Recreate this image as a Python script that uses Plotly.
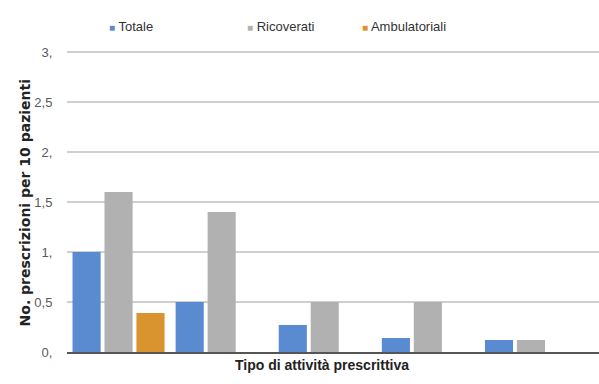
import plotly.graph_objects as go

# Prescriptions per 10 patients, by prescribing-activity type (5 groups)
groups = [0, 1, 2, 3, 4]
totale = [1.0, 0.5, 0.27, 0.14, 0.12]
ricoverati = [1.6, 1.4, 0.5, 0.5, 0.12]
ambulatoriali = [0.39, 0, 0, 0, 0]

series_names = ["Totale", "Ricoverati", "Ambulatoriali"]
series_colors = ["#5a8ad0", "#b1b1b1", "#d9942f"]

tick_vals = [0, 0.5, 1, 1.5, 2, 2.5, 3]
tick_text = ["0,", "0,5", "1,", "1,5", "2,", "2,5", "3,"]

FONT = "Liberation Sans Narrow, Liberation Sans, Arial, sans-serif"
GRID = "#cfcfcf"

fig = go.Figure()
for name, vals, col in zip(series_names, [totale, ricoverati, ambulatoriali], series_colors):
    fig.add_trace(go.Bar(x=groups, y=vals, name=name, marker_color=col,
                         marker_line_width=0, showlegend=False))

# Legend row drawn as coloured markers + labels along the top
legend_x = [0.075, 0.335, 0.551]
for name, col, lx in zip(series_names, series_colors, legend_x):
    fig.add_annotation(
        x=lx, y=1.064, xref="paper", yref="paper", xanchor="left", yanchor="middle",
        text=f"<span style='color:{col};font-size:10px'>■</span> {name}",
        showarrow=False, font=dict(family=FONT, size=13, color="#333333"))

# Axis titles
fig.add_annotation(
    x=-0.097, y=0.49, xref="paper", yref="paper", textangle=-90,
    text="<b>No. prescrizioni per 10 pazienti</b>", showarrow=False,
    font=dict(family="DejaVu Sans, sans-serif", size=14, color="#222222"))
fig.add_annotation(
    x=0.479, y=-0.075, xref="paper", yref="paper",
    text="<b>Tipo di attività prescrittiva</b>", showarrow=False,
    font=dict(family=FONT, size=14, color="#222222"))

fig.update_layout(
    width=599, height=384,
    margin=dict(l=67, r=0, t=46, b=32),
    paper_bgcolor="white", plot_bgcolor="white",
    barmode="group", bargap=0.07, bargroupgap=0.12,
    xaxis=dict(range=[-0.5, 4.66], showticklabels=False, showgrid=False,
               zeroline=False, showline=True, linecolor="#555555", linewidth=2,
               ticks=""),
    yaxis=dict(range=[0, 3.06], tickvals=tick_vals, ticktext=tick_text,
               showgrid=True, gridcolor=GRID, gridwidth=2,
               zeroline=False, showline=False,
               ticks="outside", ticklen=11, tickcolor="white",
               tickfont=dict(family=FONT, size=13, color="#595959")),
)

# Top grid line at the highest tick, drawn explicitly
fig.add_shape(type="line", xref="paper", x0=0, x1=1, yref="y",
              y0=tick_vals[-1], y1=tick_vals[-1],
              line=dict(color=GRID, width=2), layer="above")

fig.write_html("out.html")
